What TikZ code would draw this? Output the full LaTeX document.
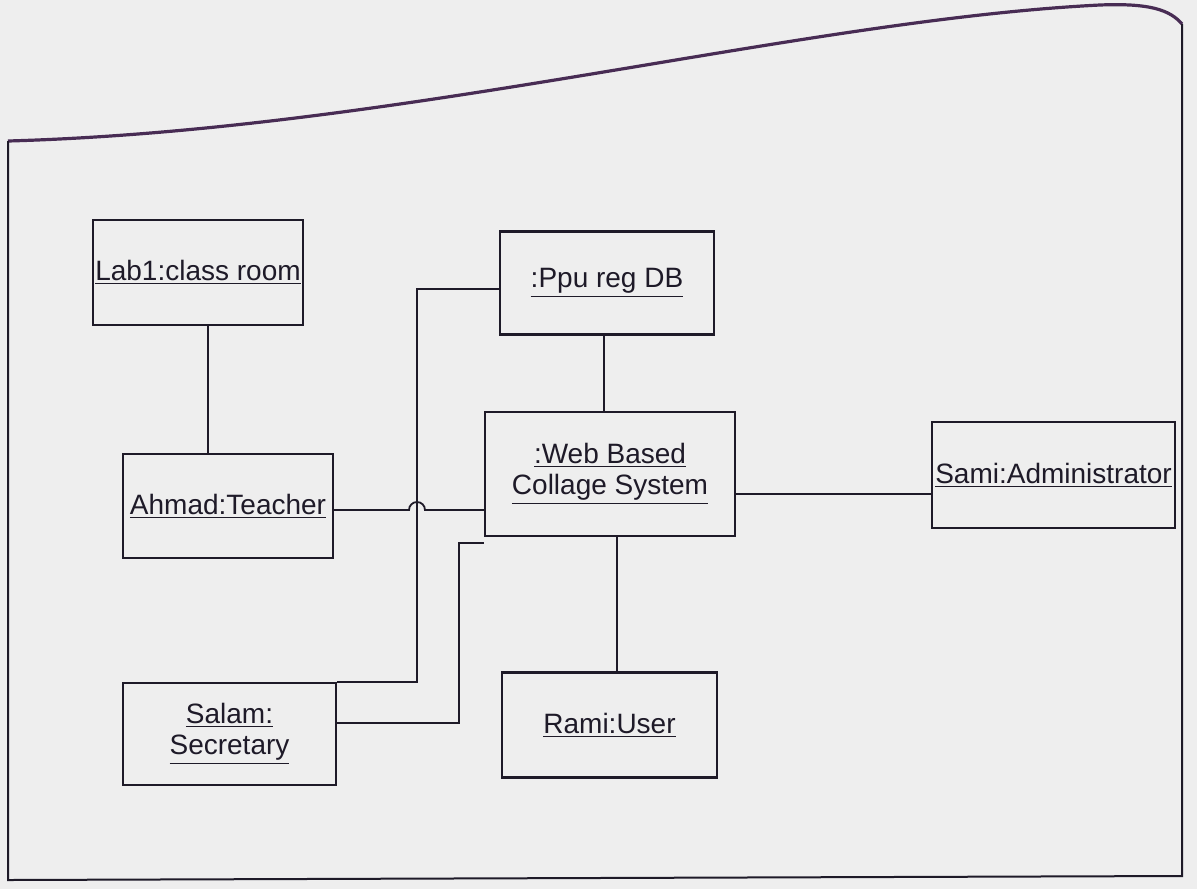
\documentclass[tikz,border=0pt]{standalone}
\usepackage{fontspec}
\setmainfont{Liberation Sans}
\usepackage{tikz}

\definecolor{ink}{RGB}{30,26,40}
\definecolor{edge}{RGB}{72,44,84}
\definecolor{paper}{RGB}{238,238,238}

\tikzset{
  obj/.style={draw=ink,line width=1.1pt,rectangle,inner sep=0pt,align=center,
    text=ink,font=\fontsize{14}{15.5}\selectfont},
  link/.style={draw=ink,line width=0.9pt}
}

\begin{document}
\begin{tikzpicture}[x=0.5pt,y=-0.5pt]
  \fill[paper] (0,0) rectangle (1197,889);
  \useasboundingbox (0,0) rectangle (1197,889);

  %page frame
  \draw[edge,line width=1.6pt] (8,141) .. controls (400,130) and (800,20) .. (1100,5) .. controls (1150,3) and (1170,10) .. (1182,24);
  \draw[ink,line width=1pt] (8,141) -- (8,880) -- (1182,876) -- (1182,24);

  %objects
  \node[obj,minimum width=105pt,minimum height=52.5pt] (lab) at (198,272.5) {\underline{Lab1:class room}};
  \node[obj,minimum width=105pt,minimum height=52pt] (ahmad) at (228,506) {\underline{Ahmad:Teacher}};
  \node[obj,minimum width=107pt,minimum height=51.5pt] (ppu) at (607,283) {\underline{:Ppu reg DB}};
  \node[obj,minimum width=125pt,minimum height=62pt] (web) at (610,474) {\underline{:Web Based}\\\underline{Collage System}};
  \node[obj,minimum width=121.5pt,minimum height=53pt] (sami) at (1053.5,475) {\underline{Sami:Administrator}};
  \node[obj,minimum width=106.5pt,minimum height=51pt] (salam) at (229.5,734) {\underline{Salam:}\\\underline{Secretary}};
  \node[obj,minimum width=107.5pt,minimum height=52.5pt] (rami) at (609.5,725) {\underline{Rami:User}};

  %bends of the long links
  \coordinate (trunk) at (417,0);
  \coordinate (riser) at (459,0);
  \coordinate (ahmadR) at ([yshift=-2pt]ahmad.east);
  \coordinate (salamR) at ([yshift=5.5pt]salam.east);
  \coordinate (ppuL) at ([yshift=-3pt]ppu.west);
  \coordinate (webC) at ([yshift=-3pt]web.south west);

  %plain links
  \draw[link] ([xshift=5pt]lab.south) -- ([xshift=5pt]lab.south |- ahmad.north);
  \draw[link] ([xshift=-1.5pt]ppu.south) -- ([xshift=-1.5pt]ppu.south |- web.north);
  \draw[link] ([yshift=-10pt]web.east) -- ([yshift=-10pt]web.east -| sami.west);
  \draw[link] ([xshift=3.5pt]web.south) -- ([xshift=3.5pt]web.south |- rami.north);

  %secretary to db
  \draw[link] (salam.north east) -- (salam.north east -| trunk) -- (trunk |- ppuL) -- (ppuL);

  %teacher to system, hopping over the trunk
  \draw[link] (ahmadR) -- ([xshift=-4pt]ahmadR -| trunk) arc[start angle=180,end angle=0,radius=4pt] -- (ahmadR -| web.west);

  %secretary to system
  \draw[link] (salamR) -- (salamR -| riser) -- (riser |- webC) -- (webC);
\end{tikzpicture}
\end{document}
